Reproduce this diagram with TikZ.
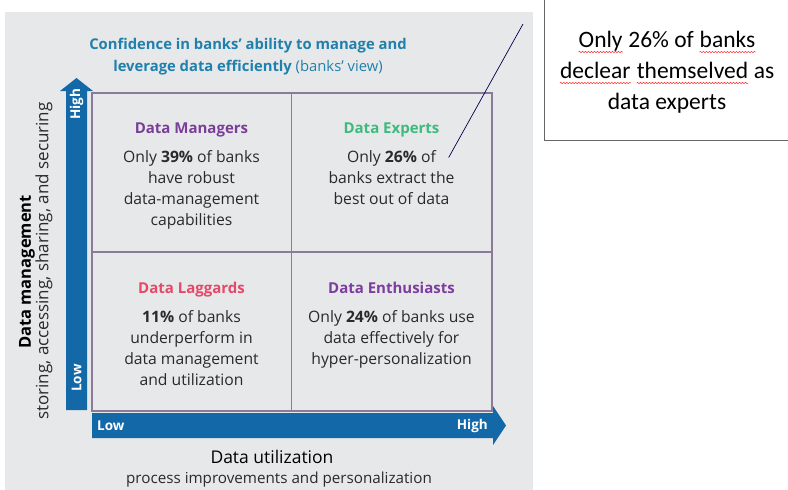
\documentclass[tikz,border=0pt]{standalone}
\usepackage{fontspec}
\setmainfont{Open Sans}
\newfontfamily\calloutfont{Carlito}
\usetikzlibrary{positioning,decorations.pathmorphing}
\definecolor{panelgray}{RGB}{231,232,234}
\definecolor{axisblue}{RGB}{19,104,168}
\definecolor{titleblue}{RGB}{32,128,172}
\definecolor{gridpurple}{RGB}{140,122,155}
\definecolor{mgrpurple}{RGB}{122,62,152}
\definecolor{exgreen}{RGB}{62,186,126}
\definecolor{lagpink}{RGB}{230,72,104}
\definecolor{entpurple}{RGB}{125,60,160}
\definecolor{bodytext}{RGB}{42,42,42}
\newcommand\typo[1]{\tikz[baseline=(w.base)]{\node[inner sep=0pt] (w) {#1}; \draw[red!80, line width=0.5pt, decorate, decoration={snake, amplitude=0.7pt, segment length=3pt}] ([yshift=-5pt]w.base west) -- ([yshift=-5pt]w.base east);}}
\tikzset{
	quadtitle/.style={inner sep=0pt, anchor=base, font=\bfseries\fontsize{15}{18}\selectfont},
	quadbody/.style={inner sep=0pt, align=center, text=bodytext, font=\fontsize{15.7}{21}\selectfont},
	axistext/.style={inner sep=0pt, text=white, font=\bfseries\fontsize{13.5}{16}\selectfont},
	gridline/.style={draw=gridpurple, line width=1.3pt}
}
\begin{document}
\begin{tikzpicture}[x=1pt, y=-1pt]
				\clip (0,0) rectangle (788,490);
				\fill[white] (0,0) rectangle (788,490);
				\fill[panelgray] (5,12) rectangle (533,495);
				
				\node[anchor=base, align=center, text=titleblue, font=\fontsize{14.8}{22}\selectfont] (title) at (248,71) {\textbf{Confidence in banks' ability to manage and}\\\textbf{leverage data efficiently} (banks' view)};
				
				\draw[gridline] (92,93) rectangle (492,411);
				\draw[gridline] (291.5,93) -- (291.5,411);
				\draw[gridline] (92,252) -- (492,252);
				
				\fill[axisblue] (66,410) -- (66,91) -- (60,91) -- (76.5,78) -- (93,91) -- (87,91) -- (87,410) -- cycle;
				\fill[axisblue] (92,413) -- (493,413) -- (493,406) -- (506,425.5) -- (493,445) -- (493,438) -- (92,438) -- cycle;
				\node[axistext, rotate=90] (vhigh) at (76.5,104) {High};
				\node[axistext, rotate=90] (vlow) at (76.5,378) {Low};
				\node[axistext, anchor=west] (hlow) at (97,425.5) {Low};
				\node[axistext, anchor=east] (hhigh) at (488,425.5) {High};
				
				\node[rotate=90, font=\bfseries\fontsize{16.5}{20}\selectfont] (ylab) at (27,272) {Data management};
				\node[rotate=90, text=bodytext, font=\fontsize{17}{20}\selectfont] (ysub) at (44,261) {storing, accessing, sharing, and securing};
				\node[anchor=base, font=\fontsize{17.5}{20}\selectfont] (xlab) at (272,463) {Data utilization};
				\node[anchor=base, text=bodytext, font=\fontsize{15.2}{19}\selectfont] (xsub) at (279,483) {process improvements and personalization};
				
				\node[quadtitle, text=mgrpurple] (mgrT) at (191.5,133) {Data Managers};
				\node[quadbody, below=17.5pt of mgrT.base] (mgr) {Only \textbf{39\%} of banks\\have robust\\data-management\\capabilities};
				\node[quadtitle, text=exgreen] (expT) at (391.5,133) {Data Experts};
				\node[quadbody, below=17.5pt of expT.base] (exp) {Only \textbf{26\%} of\\banks extract the\\best out of data};
				\node[quadtitle, text=lagpink] (lagT) at (191.5,293) {Data Laggards};
				\node[quadbody, below=17.5pt of lagT.base] (lag) {\textbf{11\%} of banks\\underperform in\\data management\\and utilization};
				\node[quadtitle, text=entpurple] (entT) at (391.5,293) {Data Enthusiasts};
				\node[quadbody, below=17.5pt of entT.base] (ent) {Only \textbf{24\%} of banks use\\data effectively for\\hyper-personalization};
				
				\draw[draw=black!60, line width=0.8pt, fill=white] (544,-5) rectangle (800,140);
				\node[anchor=north, align=center, inner sep=0pt, font=\calloutfont\fontsize{23.5}{31}\selectfont] (note) at (667,30.5) {\typo{Only} 26\% of \typo{banks}\\\typo{declear} \typo{themselved} as\\data experts};
				
				\coordinate (ptr) at (523,24);
				\draw[draw=black!70!blue, line width=0.7pt] (ptr) -- ([xshift=-6pt,yshift=-7pt]exp.north east);
			\end{tikzpicture}
\end{document}
